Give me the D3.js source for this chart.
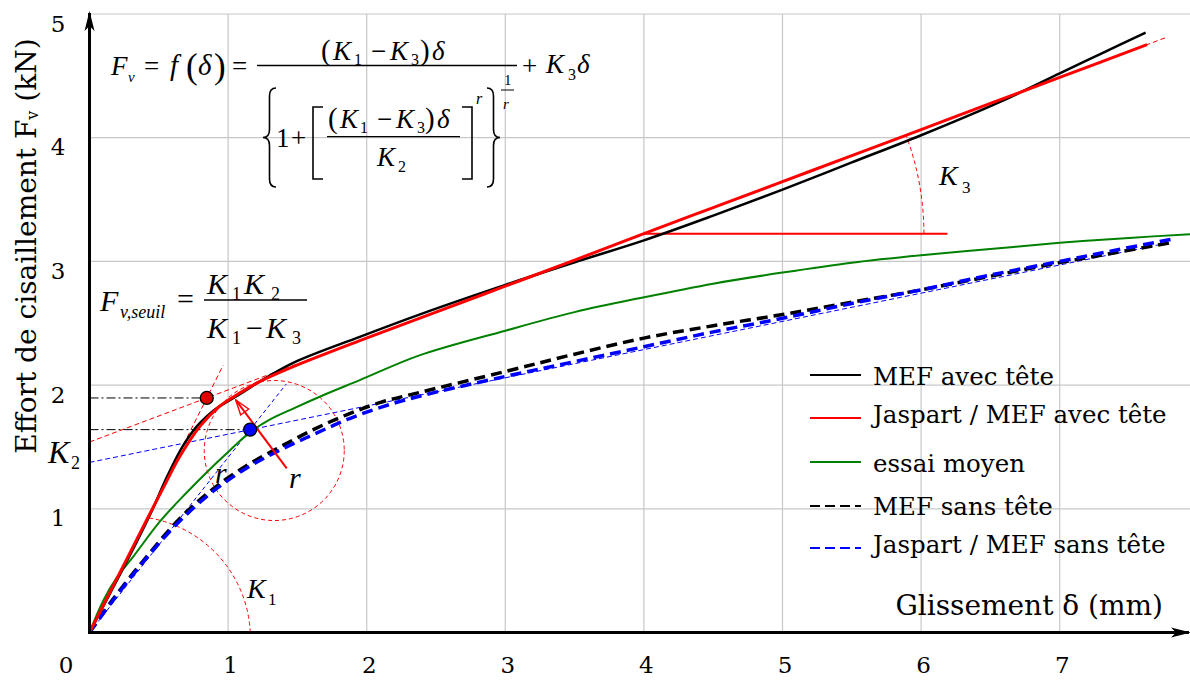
<!DOCTYPE html>
<html>
<head>
<meta charset="utf-8">
<script src="https://cdn.jsdelivr.net/npm/d3@7"></script>
<style>
body { margin: 0; background: #fff; }
</style>
</head>
<body>
<script>
// ticks
var xTicks = [1, 2, 3, 4, 5, 6, 7];
var yTicks = [1, 2, 3, 4, 5];

var mefAvec = [[0,0],[0.15,0.32],[0.29,0.62],[0.44,0.96],[0.56,1.26],[0.67,1.50],[0.77,1.66],[0.87,1.77],[0.94,1.83],[1.09,1.93],[1.23,2.03],[1.47,2.18],[1.95,2.39],[2.38,2.57],[3.0,2.81],[3.52,3.0],[4.0,3.17],[4.5,3.37],[5.0,3.58],[5.5,3.8],[6.0,4.02],[6.59,4.30],[7.0,4.52],[7.3,4.68],[7.62,4.85]];
var jaspartAvec = [[0,0],[0.15,0.33],[0.29,0.64],[0.44,0.97],[0.56,1.23],[0.65,1.42],[0.8,1.67],[0.94,1.83],[1.09,1.94],[1.23,2.03],[1.47,2.15],[1.95,2.36],[2.5,2.59],[3.0,2.80],[3.5,3.01],[4.0,3.225],[4.5,3.435],[5.0,3.645],[5.5,3.855],[6.0,4.066],[6.5,4.277],[7.0,4.487],[7.63,4.752]];
var essaiMoyen = [[0,0],[0.1,0.26],[0.2,0.45],[0.32,0.62],[0.51,0.9],[0.70,1.13],[0.85,1.30],[1.01,1.47],[1.16,1.62],[1.3,1.72],[1.45,1.80],[1.69,1.92],[1.95,2.04],[2.38,2.24],[3.0,2.44],[3.5,2.59],[4.0,2.71],[4.5,2.82],[5.0,2.91],[5.5,2.99],[6.0,3.05],[6.5,3.10],[7.0,3.15],[7.5,3.19],[7.94,3.22]];
var mefSans = [[0,0],[0.17,0.27],[0.41,0.61],[0.65,0.92],[0.89,1.16],[1.135,1.35],[1.375,1.50],[1.615,1.64],[1.855,1.76],[2.1,1.86],[2.38,1.94],[3.0,2.11],[3.5,2.25],[4.0,2.38],[4.5,2.48],[5.0,2.57],[5.5,2.67],[6.0,2.77],[6.5,2.88],[7.0,2.99],[7.4,3.07],[7.8,3.15]];
var jaspartSans = [[0,0],[0.17,0.26],[0.41,0.6],[0.65,0.9],[0.89,1.14],[1.135,1.33],[1.375,1.475],[1.615,1.6],[1.855,1.72],[2.1,1.82],[2.38,1.91],[3.0,2.07],[3.5,2.19],[4.0,2.31],[4.5,2.43],[5.0,2.54],[5.5,2.66],[6.0,2.77],[6.5,2.89],[7.0,3.0],[7.4,3.09],[7.81,3.18]];

var legendLabels = ["MEF avec tête", "Jaspart / MEF avec tête", "essai moyen", "MEF sans tête", "Jaspart / MEF sans tête"];

// K1, K2, K3 of the construction lines
var kAvec = [2.24, 1.54, 0.421];
var kSans = [1.415, 1.375, 0.228];
// threshold points
var seuilAvec = [0.846, 1.896];
var seuilSans = [1.159, 1.64];

var width = 1190, height = 680;
var serif = "'DejaVu Serif', serif";
var math = "'Liberation Serif', 'Times New Roman', serif";

var x = d3.scaleLinear().domain([0, 8]).range([89.5, 89.5 + 8 * 138.6]);
var y = d3.scaleLinear().domain([0, 5]).range([632.5, 632.5 - 5 * 123.7]);

var svg = d3.select("body").append("svg")
	.attr("width", width)
	.attr("height", height);

var defs = svg.append("defs");
defs.append("marker")
	.attr("id", "axisArrow")
	.attr("markerUnits", "userSpaceOnUse")
	.attr("viewBox", "0 -6 20 12")
	.attr("refX", 18).attr("refY", 0)
	.attr("markerWidth", 20).attr("markerHeight", 12)
	.attr("orient", "auto")
	.append("path")
	.attr("d", "M0,-5 L20,0 L0,5 L5,0 Z")
	.attr("fill", "#000");
defs.append("marker")
	.attr("id", "redArrow")
	.attr("markerUnits", "userSpaceOnUse")
	.attr("viewBox", "-1 -7 17 14")
	.attr("refX", 15).attr("refY", 0)
	.attr("markerWidth", 17).attr("markerHeight", 14)
	.attr("orient", "auto")
	.append("path")
	.attr("d", "M0,-5 L15,0 L0,5 Z")
	.attr("fill", "none")
	.attr("stroke", "red")
	.attr("stroke-width", 1.4);

// grid
svg.append("g").selectAll("line")
	.data(xTicks)
	.enter()
	.append("line")
	.attr("x1", function(d) { return x(d); })
	.attr("x2", function(d) { return x(d); })
	.attr("y1", y(0))
	.attr("y2", y(5))
	.attr("stroke", "#c8c8c8")
	.attr("stroke-width", 1.2);
svg.append("g").selectAll("line")
	.data(yTicks)
	.enter()
	.append("line")
	.attr("x1", x(0))
	.attr("x2", width)
	.attr("y1", function(d) { return y(d); })
	.attr("y2", function(d) { return y(d); })
	.attr("stroke", "#c8c8c8")
	.attr("stroke-width", 1.2);

// tick labels
var gx = svg.append("g")
	.attr("transform", "translate(2,673)")
	.call(d3.axisBottom(x).tickValues(xTicks).tickSize(0).tickFormat(d3.format("d")));
gx.select(".domain").remove();
gx.selectAll("text").attr("y", 0).attr("dy", 0)
	.attr("font-family", serif).attr("font-size", 23).attr("fill", "#000");

var gy = svg.append("g")
	.attr("transform", "translate(58,17)")
	.call(d3.axisLeft(y).tickValues(yTicks).tickSize(0).tickFormat(d3.format("d")));
gy.select(".domain").remove();
gy.selectAll("text").attr("x", 0).attr("dy", 0).attr("text-anchor", "middle")
	.attr("font-family", serif).attr("font-size", 23).attr("fill", "#000");

svg.append("text")
	.attr("x", 66).attr("y", 673)
	.attr("text-anchor", "middle")
	.attr("font-family", serif).attr("font-size", 23)
	.text("0");

// construction lines
function line2(g, k, x0, x1, color, dash, w) {
	g.append("line")
		.attr("x1", x(x0)).attr("y1", y(k[0] + k[1] * x0))
		.attr("x2", x(x1)).attr("y2", y(k[0] + k[1] * x1))
		.attr("stroke", color)
		.attr("stroke-width", w)
		.attr("stroke-dasharray", dash);
}
var cons = svg.append("g").attr("fill", "none");
// K3 lines (intercept K2)
line2(cons, [kAvec[1], kAvec[2]], 0, 7.78, "red", "5,3", 1);
line2(cons, [kSans[1], kSans[2]], 0, 7.8, "blue", "5,3", 1);
// K1 lines
line2(cons, [0, kAvec[0]], 0.55, 0.965, "red", "5,3", 1);
line2(cons, [0, kSans[0]], 0, 1.42, "blue", "4,3", 1);
// dash-dot lines to the threshold points
[seuilAvec, seuilSans].forEach(function(p) {
	cons.append("line")
		.attr("x1", x(0)).attr("x2", x(p[0]))
		.attr("y1", y(p[1])).attr("y2", y(p[1]))
		.attr("stroke", "#000")
		.attr("stroke-width", 1)
		.attr("stroke-dasharray", "9,3,2,3");
});

// K3 horizontal + arc
var k3x = 4.0, k3y = kAvec[1] + kAvec[2] * k3x;
cons.append("line")
	.attr("x1", x(k3x)).attr("y1", y(k3y))
	.attr("x2", x(6.19)).attr("y2", y(k3y))
	.attr("stroke", "red").attr("stroke-width", 2);
var ang = Math.atan(kAvec[2] * 123.7 / 138.6), R3 = 280;
cons.append("path")
	.attr("d", "M" + (x(k3x) + R3) + "," + y(k3y) + " A" + R3 + "," + R3 + " 0 0,0 " +
		(x(k3x) + R3 * Math.cos(ang)) + "," + (y(k3y) - R3 * Math.sin(ang)))
	.attr("stroke", "red").attr("stroke-width", 1).attr("stroke-dasharray", "4,3");

// K1 arc
cons.append("path")
	.attr("d", "M" + x(1.16) + "," + y(0) + " A122,122 0 0,0 " + x(0.41) + "," + y(0.93))
	.attr("stroke", "red").attr("stroke-width", 1).attr("stroke-dasharray", "4,3");

// r circle
cons.append("circle")
	.attr("cx", x(1.333)).attr("cy", y(1.471)).attr("r", 70)
	.attr("stroke", "red").attr("stroke-width", 1).attr("stroke-dasharray", "4,3");

// curves
var path = d3.line()
	.x(function(d) { return x(d[0]); })
	.y(function(d) { return y(d[1]); })
	.curve(d3.curveCatmullRom.alpha(0.5));

var series = [
	{data: mefSans, color: "#000", w: 3.5, dash: "11,6"},
	{data: jaspartSans, color: "blue", w: 3.5, dash: "11,6"},
	{data: essaiMoyen, color: "green", w: 2, dash: null},
	{data: mefAvec, color: "#000", w: 2.5, dash: null},
	{data: jaspartAvec, color: "red", w: 3, dash: null}
];
svg.append("g").selectAll("path")
	.data(series)
	.enter()
	.append("path")
	.attr("d", function(d) { return path(d.data); })
	.attr("fill", "none")
	.attr("stroke", function(d) { return d.color; })
	.attr("stroke-width", function(d) { return d.w; })
	.attr("stroke-dasharray", function(d) { return d.dash; });

// r arrow
svg.append("line")
	.attr("x1", x(1.423)).attr("y1", y(1.327))
	.attr("x2", x(1.055)).attr("y2", y(1.88))
	.attr("stroke", "red").attr("stroke-width", 2)
	.attr("marker-end", "url(#redArrow)");

// threshold dots
svg.append("g").selectAll("circle")
	.data([[seuilAvec, "#e00000"], [seuilSans, "#0000ff"]])
	.enter()
	.append("circle")
	.attr("cx", function(d) { return x(d[0][0]); })
	.attr("cy", function(d) { return y(d[0][1]); })
	.attr("r", 6.5)
	.attr("fill", function(d) { return d[1]; })
	.attr("stroke", "#000")
	.attr("stroke-width", 1.3);

// axes with arrows
svg.append("line")
	.attr("x1", x(0)).attr("y1", y(0) + 1.5)
	.attr("x2", x(0)).attr("y2", 13)
	.attr("stroke", "#000").attr("stroke-width", 3)
	.attr("marker-end", "url(#axisArrow)");
svg.append("line")
	.attr("x1", x(0) - 1.5).attr("y1", y(0))
	.attr("x2", 1189).attr("y2", y(0))
	.attr("stroke", "#000").attr("stroke-width", 3)
	.attr("marker-end", "url(#axisArrow)");

// axis titles
svg.append("text")
	.attr("x", 1163).attr("y", 615)
	.attr("text-anchor", "end")
	.attr("font-family", serif).attr("font-size", 28)
	.text("Glissement δ (mm)");

var yt = svg.append("text")
	.attr("transform", "translate(36,246) rotate(-90)")
	.attr("text-anchor", "middle")
	.attr("font-family", serif).attr("font-size", 28);
yt.append("tspan").text("Effort de cisaillement  F");
yt.append("tspan").attr("font-size", 16).attr("dy", 2).text("v");
yt.append("tspan").attr("dy", -2).text(" (kN)");

// legend
var legend = svg.append("g").attr("transform", "translate(810,0)");
var legRows = [
	{ly: 375, ty: 385, color: "#000", dash: null, w: 2.2},
	{ly: 418, ty: 423, color: "red", dash: null, w: 2.2},
	{ly: 462, ty: 472, color: "green", dash: null, w: 2.2},
	{ly: 506, ty: 515, color: "#000", dash: "10,5", w: 2},
	{ly: 548, ty: 553, color: "blue", dash: "10,5", w: 2}
];
legend.selectAll("line")
	.data(legRows)
	.enter()
	.append("line")
	.attr("x1", 0).attr("x2", 51)
	.attr("y1", function(d) { return d.ly; })
	.attr("y2", function(d) { return d.ly; })
	.attr("stroke", function(d) { return d.color; })
	.attr("stroke-width", function(d) { return d.w; })
	.attr("stroke-dasharray", function(d) { return d.dash; });
legend.selectAll("text")
	.data(legRows)
	.enter()
	.append("text")
	.attr("x", 63)
	.attr("y", function(d) { return d.ty; })
	.attr("font-family", serif).attr("font-size", 24.5)
	.text(function(d, i) { return legendLabels[i]; });

// math helpers
function t(g, px, py, s, size, it) {
	return g.append("text")
		.attr("x", px).attr("y", py)
		.attr("font-family", math)
		.attr("font-size", size)
		.attr("font-style", it ? "italic" : "normal")
		.text(s);
}
function bar(g, x1, x2, py, w) {
	g.append("line").attr("x1", x1).attr("x2", x2).attr("y1", py).attr("y2", py)
		.attr("stroke", "#000").attr("stroke-width", w || 1.3);
}
function brace(g, px, y0, y1, w, dir) {
	var m = (y0 + y1) / 2, r = 8, xa = px, xb = px + dir * w / 2, xc = px + dir * w;
	g.append("path")
		.attr("d", "M" + xc + "," + y0 + " Q" + xb + "," + y0 + " " + xb + "," + (y0 + r) +
			" L" + xb + "," + (m - r) + " Q" + xb + "," + m + " " + xa + "," + m +
			" Q" + xb + "," + m + " " + xb + "," + (m + r) +
			" L" + xb + "," + (y1 - r) + " Q" + xb + "," + y1 + " " + xc + "," + y1)
		.attr("fill", "none").attr("stroke", "#000").attr("stroke-width", 1.6);
}
function bracket(g, px, y0, y1, w) {
	g.append("path")
		.attr("d", "M" + (px + w) + "," + y0 + " L" + px + "," + y0 + " L" + px + "," + y1 + " L" + (px + w) + "," + y1)
		.attr("fill", "none").attr("stroke", "#000").attr("stroke-width", 1.6);
}

// formula Fv = f(delta)
var f1 = svg.append("g");
t(f1, 111, 75, "F", 27, true);
t(f1, 128, 82, "v", 15, true);
t(f1, 144, 75, "=", 27);
t(f1, 170, 75, "f", 29, true);
t(f1, 186, 78, "(", 35);
t(f1, 198, 75, "δ", 29, true);
t(f1, 214, 78, ")", 35);
t(f1, 232, 75, "=", 27);
bar(f1, 257, 517, 65.5);
t(f1, 321, 60, "(", 29);
t(f1, 333, 60, "K", 27, true);
t(f1, 354, 65, "1", 16);
t(f1, 371, 60, "−", 27);
t(f1, 390, 60, "K", 27, true);
t(f1, 411, 65, "3", 16);
t(f1, 420, 60, ")", 29);
t(f1, 432, 60, "δ", 27, true);
t(f1, 522, 75, "+", 27);
t(f1, 546, 73, "K", 27, true);
t(f1, 568, 80, "3", 16);
t(f1, 577, 73, "δ", 27, true);
brace(f1, 263, 88, 187, 13, 1);
t(f1, 276, 147, "1", 27);
t(f1, 291, 147, "+", 27);
bracket(f1, 313, 107, 179, 10);
t(f1, 328, 128, "(", 29);
t(f1, 340, 128, "K", 27, true);
t(f1, 360, 133, "1", 16);
t(f1, 377, 128, "−", 27);
t(f1, 396, 128, "K", 27, true);
t(f1, 417, 133, "3", 16);
t(f1, 425, 128, ")", 29);
t(f1, 437, 128, "δ", 27, true);
bar(f1, 327, 460, 136.7);
t(f1, 377, 166, "K", 27, true);
t(f1, 398, 172, "2", 16);
bracket(f1, 472, 107, 179, -10);
t(f1, 476, 104, "r", 16, true);
brace(f1, 500, 88, 187, 13, -1);
t(f1, 504, 85, "1", 15);
bar(f1, 501, 514, 90, 1);
t(f1, 503, 109, "r", 15, true);

// formula F_v,seuil
var f2 = svg.append("g");
t(f2, 100, 311, "F", 30, true);
t(f2, 120, 318, "v,seuil", 18, true);
t(f2, 177, 309, "=", 30);
t(f2, 207, 294, "K", 30, true);
t(f2, 232, 300, "1", 18);
t(f2, 244, 294, "K", 30, true);
t(f2, 271, 300, "2", 18);
bar(f2, 204, 307, 300);
t(f2, 207, 338, "K", 30, true);
t(f2, 232, 344, "1", 18);
t(f2, 246, 338, "−", 30);
t(f2, 266, 338, "K", 30, true);
t(f2, 292, 344, "3", 18);

// K and r labels
var lab = svg.append("g");
t(lab, 48, 463, "K", 32, true);
t(lab, 71, 469, "2", 18);
t(lab, 247, 598, "K", 28, true);
t(lab, 268, 605, "1", 17);
t(lab, 939, 185, "K", 28, true);
t(lab, 962, 193, "3", 17);
t(lab, 215, 483, "r", 30, true);
t(lab, 289, 488, "r", 30, true);
</script>
</body>
</html>
